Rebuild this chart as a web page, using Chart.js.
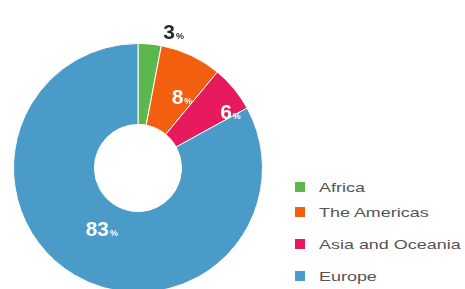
<!DOCTYPE html>
<html>
<head>
<meta charset="utf-8">
<script src="https://cdn.jsdelivr.net/npm/chart.js@4"></script>
<style>
  html, body { margin: 0; padding: 0; background: #fff; overflow: hidden; }
  body { width: 465px; height: 289px; position: relative; font-family: "Liberation Sans", Arial, sans-serif; }
  .canvas { position: absolute; left: 0; top: 0; width: 276px; height: 300px; }
  .legend-item { position: absolute; left: 295px; height: 10px; }
  .legend-item .box { position: absolute; left: 0; top: 0; width: 10px; height: 10px; }
  .legend-item .txt { position: absolute; left: 24px; top: -7px; font-size: 13px; color: #555; white-space: nowrap;
    transform: scaleX(1.38); transform-origin: left center; line-height: 26px; }
</style>
</head>
<body>
<div class="canvas"><canvas id="donutChart"></canvas></div>
<div id="legend"></div>
<script>
// data
const regions = ['Africa', 'The Americas', 'Asia and Oceania', 'Europe'];
const shares = [3, 8, 6, 83];
const colors = ['#5cb84c', '#f2600f', '#e61a5c', '#4b9bc9'];

// label placement per slice (radius in px from centre, angle nudge in degrees)
const labelRadius = [141, 84, 108, 70];
const labelNudge = [9, 6, 8, 1];
const labelColor = ['#2b2b2b', '#fff', '#fff', '#fff'];
const legendTops = [182, 207, 239, 271];

const percentLabels = {
  id: 'percentLabels',
  afterDatasetsDraw(chart) {
    const ctx = chart.ctx;
    const arcs = chart.getDatasetMeta(0).data;
    ctx.save();
    arcs.forEach((arc, i) => {
      const mid = (arc.startAngle + arc.endAngle) / 2 + labelNudge[i] * Math.PI / 180;
      const x = arc.x + Math.cos(mid) * labelRadius[i];
      const y = arc.y + Math.sin(mid) * labelRadius[i];
      const big = String(shares[i]);
      ctx.font = 'bold 21px "Liberation Sans", Arial, sans-serif';
      const w1 = ctx.measureText(big).width;
      ctx.font = 'bold 9px "Liberation Sans", Arial, sans-serif';
      const w2 = ctx.measureText('%').width;
      const left = x - (w1 + w2) / 2;
      ctx.fillStyle = labelColor[i];
      ctx.textBaseline = 'alphabetic';
      ctx.textAlign = 'left';
      ctx.font = 'bold 21px "Liberation Sans", Arial, sans-serif';
      ctx.fillText(big, left, y + 8);
      ctx.font = 'bold 9px "Liberation Sans", Arial, sans-serif';
      ctx.fillText('%', left + w1 + 1, y + 8);
    });
    ctx.restore();
  }
};

new Chart(document.getElementById('donutChart'), {
  type: 'doughnut',
  data: {
    labels: regions,
    datasets: [{
      data: shares,
      backgroundColor: colors,
      borderColor: '#ffffff',
      borderWidth: 1
    }]
  },
  options: {
    responsive: true,
    maintainAspectRatio: false,
    animation: false,
    cutout: '35%',
    layout: { padding: { top: 43, bottom: 7, left: 13, right: 13 } },
    plugins: {
      legend: { display: false },
      tooltip: { enabled: false }
    }
  },
  plugins: [percentLabels]
});

const legend = document.getElementById('legend');
regions.forEach((name, i) => {
  const item = document.createElement('div');
  item.className = 'legend-item';
  item.style.top = legendTops[i] + 'px';
  item.innerHTML = '<div class="box" style="background:' + colors[i] + '"></div><div class="txt">' + name + '</div>';
  legend.appendChild(item);
});
</script>
</body>
</html>
